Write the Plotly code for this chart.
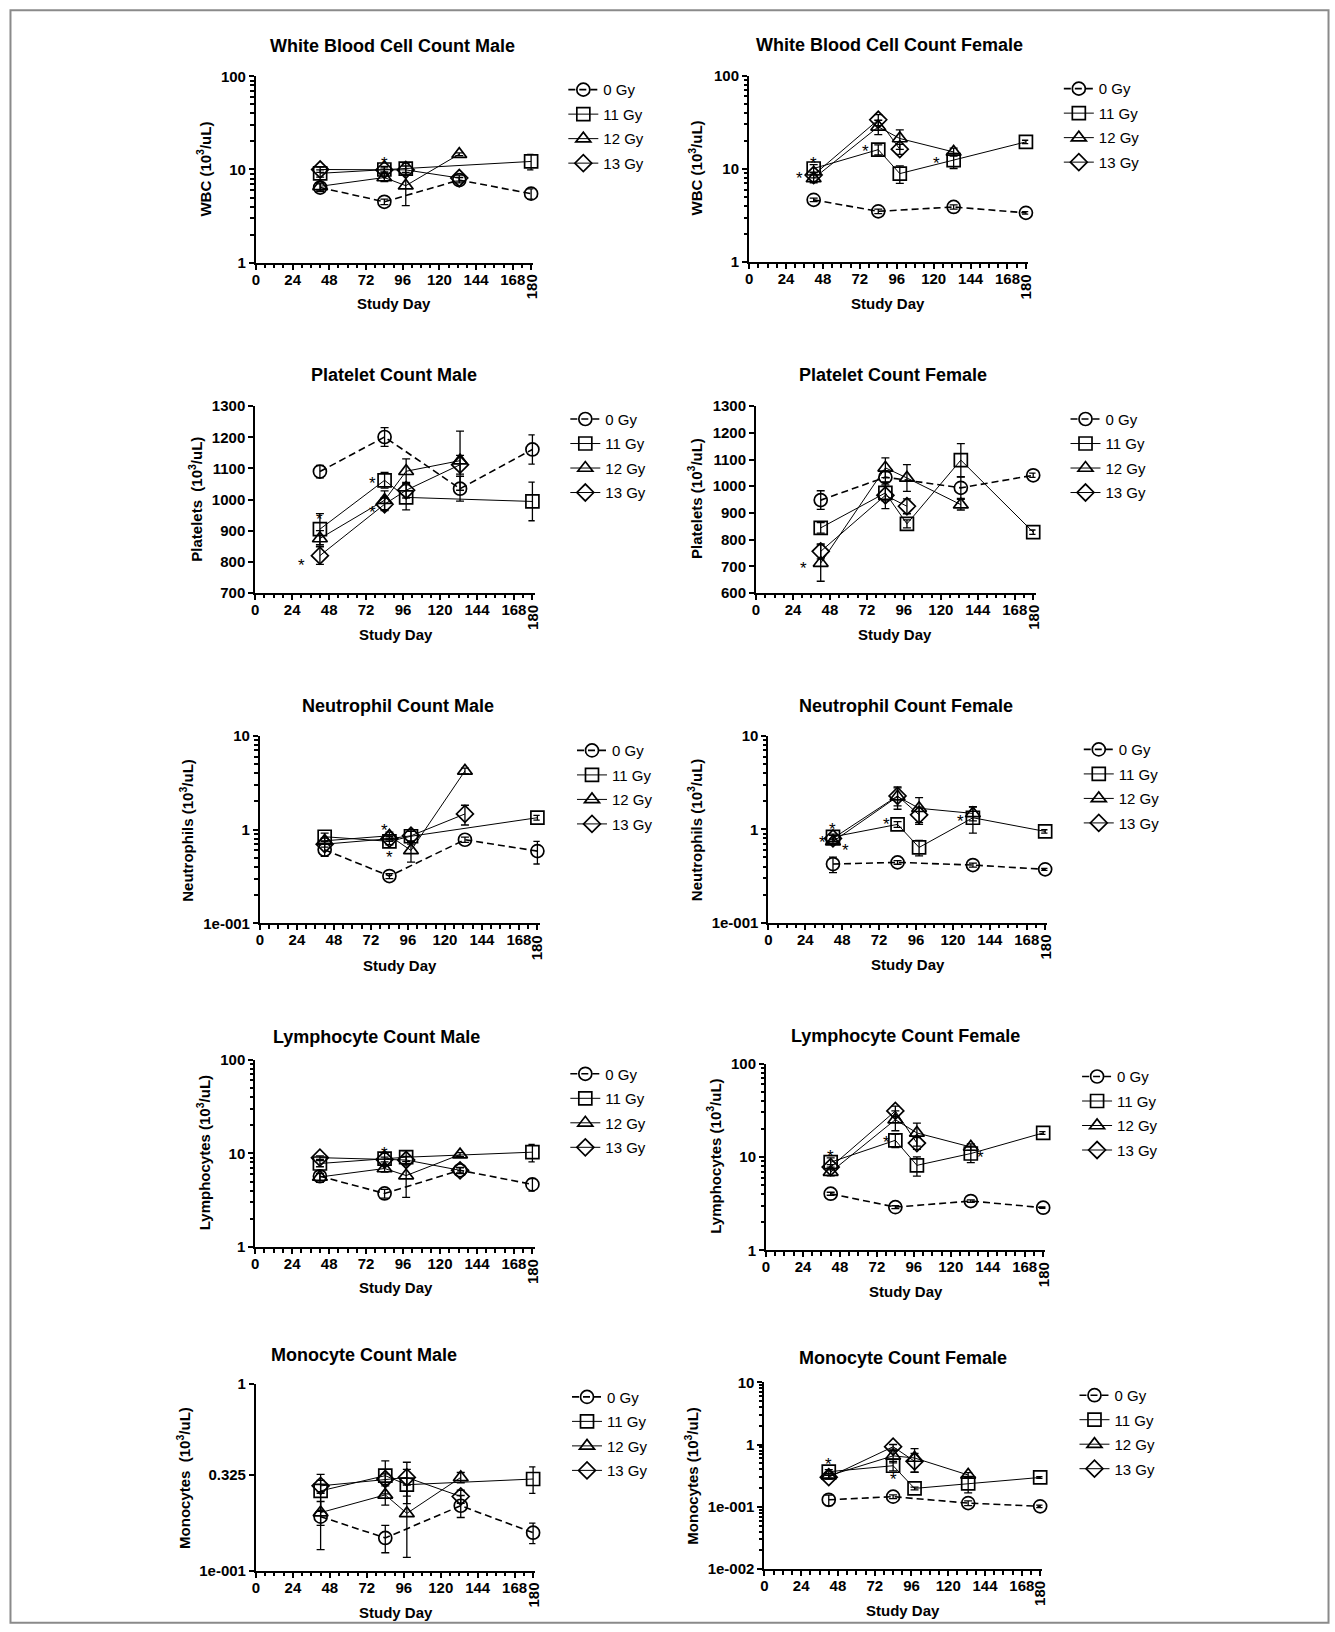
import math
import plotly.graph_objects as go

W, H = 1335, 1632
FONT = "Liberation Sans, Arial, Helvetica, sans-serif"

# ---------------- data ----------------
GROUPS = ["0 Gy", "11 Gy", "12 Gy", "13 Gy"]

DAYS_CTRL = [42, 84, 133, 180]
DAYS_M11 = [42, 84, 98, 180]
DAYS_M12 = [42, 84, 98, 133]
DAYS_M13 = [42, 84, 98, 133]
DAYS_F11 = [42, 84, 98, 133, 180]
DAYS_F12 = [42, 84, 98, 133]
DAYS_F13 = [42, 84, 98]

X_TICKS = [0, 24, 48, 72, 96, 120, 144, 168, 180]
X_TICK_TEXT = ["0", "24", "48", "72", "96", "120", "144", "168", ""]

# WBC male
wbc_m_0 = [6.4, 4.5, 7.7, 5.5]
wbc_m_0_err = [0.6, 0.3, 0.5, 0.7]
wbc_m_11 = [9.1, 10.0, 10.2, 12.2]
wbc_m_11_err = [0.8, 0.8, 1.5, 2.3]
wbc_m_12 = [6.6, 8.2, 6.7, 14.6]
wbc_m_12_err = [0.6, 0.8, 2.6, 0.5]
wbc_m_13 = [10.0, 9.9, 9.9, 8.1]
wbc_m_13_err = [0.7, 0.5, 1.0, 0.6]
wbc_m_star_x = [84]
wbc_m_star_y = [12.7]

# WBC female
wbc_f_0 = [4.65, 3.5, 3.9, 3.37]
wbc_f_0_err = [0.2, 0.2, 0.2, 0.1]
wbc_f_11 = [10.1, 16.1, 8.9, 12.4, 19.5]
wbc_f_11_err = [1.0, 2.0, 1.9, 2.3, 0.8]
wbc_f_12 = [7.9, 28.3, 21.2, 15.2]
wbc_f_12_err = [0.8, 5.0, 5.0, 1.5]
wbc_f_13 = [8.6, 33.7, 16.3]
wbc_f_13_err = [0.6, 4.5, 2.0]
wbc_f_star_x = [33, 42, 76, 122]
wbc_f_star_y = [8.6, 12.5, 17.0, 12.7]

# Platelets male
plt_m_0 = [1090, 1201, 1035, 1161]
plt_m_0_err = [20, 30, 40, 47]
plt_m_11 = [905, 1062, 1007, 994]
plt_m_11_err = [50, 25, 40, 62]
plt_m_12 = [875, 998, 1091, 1125]
plt_m_12_err = [25, 30, 40, 95]
plt_m_13 = [820, 985, 1030, 1112]
plt_m_13_err = [28, 20, 25, 30]
plt_m_star_x = [30, 76, 76, 42]
plt_m_star_y = [800, 1064, 971, 950]

# Platelets female
plt_f_0 = [948, 1034, 994, 1041]
plt_f_0_err = [35, 20, 40, 8]
plt_f_11 = [844, 975, 859, 1098, 828]
plt_f_11_err = [20, 30, 15, 62, 8]
plt_f_12 = [712, 1069, 1031, 931]
plt_f_12_err = [68, 37, 50, 20]
plt_f_13 = [756, 966, 925]
plt_f_13_err = [28, 50, 28]
plt_f_star_x = [31]
plt_f_star_y = [706]

# Neutrophils male
neu_m_0 = [0.61, 0.32, 0.78, 0.59]
neu_m_0_err = [0.09, 0.02, 0.05, 0.16]
neu_m_11 = [0.84, 0.75, 0.85, 1.34]
neu_m_11_err = [0.08, 0.06, 0.15, 0.08]
neu_m_12 = [0.76, 0.86, 0.60, 4.23]
neu_m_12_err = [0.05, 0.08, 0.15, 0.3]
neu_m_13 = [0.70, 0.80, 0.86, 1.47]
neu_m_13_err = [0.05, 0.05, 0.1, 0.35]
neu_m_star_x = [81, 84]
neu_m_star_y = [1.09, 0.56]

# Neutrophils female
neu_f_0 = [0.425, 0.443, 0.415, 0.373]
neu_f_0_err = [0.08, 0.02, 0.02, 0.01]
neu_f_11 = [0.83, 1.13, 0.64, 1.33, 0.95]
neu_f_11_err = [0.06, 0.08, 0.12, 0.42, 0.04]
neu_f_12 = [0.74, 2.24, 1.68, 1.48]
neu_f_12_err = [0.05, 0.6, 0.5, 0.25]
neu_f_13 = [0.80, 2.28, 1.43]
neu_f_13_err = [0.06, 0.5, 0.3]
neu_f_star_x = [42, 35, 50, 77, 125]
neu_f_star_y = [1.09, 0.8, 0.66, 1.23, 1.33]

# Lymphocytes male
lym_m_0 = [5.7, 3.74, 6.6, 4.67]
lym_m_0_err = [0.8, 0.4, 0.5, 0.7]
lym_m_11 = [7.8, 8.8, 9.1, 10.3]
lym_m_11_err = [0.6, 1.2, 1.6, 2.2]
lym_m_12 = [5.6, 6.9, 5.8, 9.7]
lym_m_12_err = [0.5, 0.6, 2.4, 0.5]
lym_m_13 = [9.0, 8.6, 8.5, 6.6]
lym_m_13_err = [0.4, 0.5, 0.8, 0.4]
lym_m_star_x = [84]
lym_m_star_y = [11.0]

# Lymphocytes female
lym_f_0 = [4.05, 2.91, 3.38, 2.87]
lym_f_0_err = [0.15, 0.1, 0.1, 0.05]
lym_f_11 = [8.8, 15.1, 8.15, 10.9, 18.1]
lym_f_11_err = [1.0, 2.5, 1.9, 2.2, 0.6]
lym_f_12 = [6.9, 25.1, 18.1, 12.8]
lym_f_12_err = [0.6, 6.0, 5.0, 1.0]
lym_f_13 = [7.8, 31.1, 14.1]
lym_f_13_err = [0.5, 4.0, 2.0]
lym_f_star_x = [42, 78, 139]
lym_f_star_y = [11.3, 15.7, 10.9]

# Monocytes male
mon_m_0 = [0.195, 0.150, 0.223, 0.160]
mon_m_0_err = [0.065, 0.025, 0.03, 0.02]
mon_m_11 = [0.268, 0.323, 0.289, 0.310]
mon_m_11_err = [0.06, 0.065, 0.06, 0.05]
mon_m_12 = [0.205, 0.255, 0.203, 0.316]
mon_m_12_err = [0.03, 0.03, 0.085, 0.02]
mon_m_13 = [0.285, 0.31, 0.316, 0.25]
mon_m_13_err = [0.02, 0.02, 0.065, 0.02]
mon_m_star_x = []
mon_m_star_y = []

# Monocytes female
mon_f_0 = [0.130, 0.146, 0.115, 0.102]
mon_f_0_err = [0.025, 0.01, 0.01, 0.005]
mon_f_11 = [0.367, 0.458, 0.198, 0.238, 0.297]
mon_f_11_err = [0.03, 0.08, 0.01, 0.07, 0.01]
mon_f_12 = [0.316, 0.66, 0.61, 0.325]
mon_f_12_err = [0.03, 0.15, 0.25, 0.03]
mon_f_13 = [0.30, 0.925, 0.54]
mon_f_13_err = [0.02, 0.08, 0.18]
mon_f_star_x = [42, 84]
mon_f_star_y = [0.55, 0.32]

PANEL_TITLES = [
    "White Blood Cell Count Male", "White Blood Cell Count Female",
    "Platelet Count Male", "Platelet Count Female",
    "Neutrophil Count Male", "Neutrophil Count Female",
    "Lymphocyte Count Male", "Lymphocyte Count Female",
    "Monocyte Count Male", "Monocyte Count Female",
]
Y_TITLES = [
    "WBC (10<sup>3</sup>/uL)", "WBC (10<sup>3</sup>/uL)",
    "Platelets\u00a0 (10<sup>3</sup>/uL)", "Platelets (10<sup>3</sup>/uL)",
    "Neutrophils (10<sup>3</sup>/uL)", "Neutrophils (10<sup>3</sup>/uL)",
    "Lymphocytes (10<sup>3</sup>/uL)", "Lymphocytes (10<sup>3</sup>/uL)",
    "Monocytes\u00a0 (10<sup>3</sup>/uL)", "Monocytes (10<sup>3</sup>/uL)",
]
X_TITLE = "Study Day"

# y axis definitions: (log?, low, high, tick values, tick texts, minor ticks?)
Y_AXES = [
    (True, 1, 100, [1, 10, 100], ["1", "10", "100"], True),
    (True, 1, 100, [1, 10, 100], ["1", "10", "100"], True),
    (False, 700, 1300, [700, 800, 900, 1000, 1100, 1200, 1300],
     ["700", "800", "900", "1000", "1100", "1200", "1300"], False),
    (False, 600, 1300, [600, 700, 800, 900, 1000, 1100, 1200, 1300],
     ["600", "700", "800", "900", "1000", "1100", "1200", "1300"], False),
    (True, 0.1, 10, [0.1, 1, 10], ["1e-001", "1", "10"], True),
    (True, 0.1, 10, [0.1, 1, 10], ["1e-001", "1", "10"], True),
    (True, 1, 100, [1, 10, 100], ["1", "10", "100"], True),
    (True, 1, 100, [1, 10, 100], ["1", "10", "100"], True),
    (True, 0.1, 1, [0.1, 0.325, 1], ["1e-001", "0.325", "1"], False),
    (True, 0.01, 10, [0.01, 0.1, 1, 10], ["1e-002", "1e-001", "1", "10"], True),
]

SERIES = [
    [(DAYS_CTRL, wbc_m_0, wbc_m_0_err), (DAYS_M11, wbc_m_11, wbc_m_11_err),
     (DAYS_M12, wbc_m_12, wbc_m_12_err), (DAYS_M13, wbc_m_13, wbc_m_13_err)],
    [(DAYS_CTRL, wbc_f_0, wbc_f_0_err), (DAYS_F11, wbc_f_11, wbc_f_11_err),
     (DAYS_F12, wbc_f_12, wbc_f_12_err), (DAYS_F13, wbc_f_13, wbc_f_13_err)],
    [(DAYS_CTRL, plt_m_0, plt_m_0_err), (DAYS_M11, plt_m_11, plt_m_11_err),
     (DAYS_M12, plt_m_12, plt_m_12_err), (DAYS_M13, plt_m_13, plt_m_13_err)],
    [(DAYS_CTRL, plt_f_0, plt_f_0_err), (DAYS_F11, plt_f_11, plt_f_11_err),
     (DAYS_F12, plt_f_12, plt_f_12_err), (DAYS_F13, plt_f_13, plt_f_13_err)],
    [(DAYS_CTRL, neu_m_0, neu_m_0_err), (DAYS_M11, neu_m_11, neu_m_11_err),
     (DAYS_M12, neu_m_12, neu_m_12_err), (DAYS_M13, neu_m_13, neu_m_13_err)],
    [(DAYS_CTRL, neu_f_0, neu_f_0_err), (DAYS_F11, neu_f_11, neu_f_11_err),
     (DAYS_F12, neu_f_12, neu_f_12_err), (DAYS_F13, neu_f_13, neu_f_13_err)],
    [(DAYS_CTRL, lym_m_0, lym_m_0_err), (DAYS_M11, lym_m_11, lym_m_11_err),
     (DAYS_M12, lym_m_12, lym_m_12_err), (DAYS_M13, lym_m_13, lym_m_13_err)],
    [(DAYS_CTRL, lym_f_0, lym_f_0_err), (DAYS_F11, lym_f_11, lym_f_11_err),
     (DAYS_F12, lym_f_12, lym_f_12_err), (DAYS_F13, lym_f_13, lym_f_13_err)],
    [(DAYS_CTRL, mon_m_0, mon_m_0_err), (DAYS_M11, mon_m_11, mon_m_11_err),
     (DAYS_M12, mon_m_12, mon_m_12_err), (DAYS_M13, mon_m_13, mon_m_13_err)],
    [(DAYS_CTRL, mon_f_0, mon_f_0_err), (DAYS_F11, mon_f_11, mon_f_11_err),
     (DAYS_F12, mon_f_12, mon_f_12_err), (DAYS_F13, mon_f_13, mon_f_13_err)],
]
STARS = [
    (wbc_m_star_x, wbc_m_star_y), (wbc_f_star_x, wbc_f_star_y),
    (plt_m_star_x, plt_m_star_y), (plt_f_star_x, plt_f_star_y),
    (neu_m_star_x, neu_m_star_y), (neu_f_star_x, neu_f_star_y),
    (lym_m_star_x, lym_m_star_y), (lym_f_star_x, lym_f_star_y),
    (mon_m_star_x, mon_m_star_y), (mon_f_star_x, mon_f_star_y),
]

# ---------------- layout geometry (pixels of the reference) ----------------
P_LEFT = [252.7, 747.3, 252.0, 754.3, 256.7, 766.7, 252.0, 764.3, 252.7, 762.7]
P_X180 = [528.7, 1025.0, 530.0, 1032.3, 535.0, 1044.3, 530.0, 1042.3, 530.7, 1039.3]
P_TOP = [77.3, 76.7, 406.7, 406.7, 736.0, 736.0, 1059.3, 1063.3, 1383.3, 1381.7]
P_BOT = [263.3, 262.7, 593.3, 593.3, 923.3, 922.7, 1246.7, 1250.0, 1570.0, 1568.3]
TITLE_X = [389.7, 888.0, 390.7, 892.0, 394.7, 904.7, 374.0, 904.7, 361.3, 901.3]
TITLE_Y = [46.7, 45.7, 375.7, 375.7, 706.0, 706.0, 1036.7, 1035.7, 1354.0, 1357.3]
YT_X = [200.0, 693.3, 191.7, 693.3, 183.3, 693.3, 200.0, 711.7, 180.0, 690.0]
YT_Y = [170.0, 169.0, 500.0, 499.2, 830.0, 830.0, 1152.5, 1155.8, 1476.7, 1475.0]
XT_X = [391.0, 886.7, 392.7, 894.0, 396.7, 906.7, 392.7, 904.3, 392.7, 901.7]
XT_Y = [304.3, 304.3, 635.0, 635.0, 965.0, 964.0, 1287.3, 1291.0, 1611.7, 1609.3]
LEG_X = [583.0, 1080.0, 585.0, 1086.7, 591.7, 1100.0, 585.0, 1098.3, 586.7, 1095.7]
LEG_Y = [89.3, 88.3, 418.3, 418.3, 749.3, 748.3, 1072.3, 1075.0, 1395.0, 1393.3]

# vertical calibration of the photographed page
Y_OFF, Y_SCALE = 10.0, 0.9884

X_MAX = 181.5
SYMBOLS = ["circle-open", "square-open", "triangle-up-open", "diamond-open"]
DASHES = ["7px,4px", "solid", "solid", "solid"]
LWIDTH = [1.6, 1.0, 1.0, 1.0]

fig = go.Figure()
layout = dict(
    width=W, height=H, margin=dict(l=0, r=0, t=0, b=0),
    paper_bgcolor="white", plot_bgcolor="white",
    font=dict(family=FONT, color="black"),
    showlegend=True,
)
annotations = []


def px_x(v):
    return v / W


def px_y(v):
    return 1 - ((v - Y_OFF) / Y_SCALE) / H


for i in range(10):
    sfx = "" if i == 0 else str(i + 1)
    xa, ya = "x" + sfx, "y" + sfx
    leg = "legend" + sfx
    for g, (days, vals, errs) in enumerate(SERIES[i]):
        fig.add_trace(go.Scatter(
            x=days, y=vals, name=GROUPS[g], mode="lines+markers",
            xaxis=xa, yaxis=ya, legend=leg, legendgroup=f"p{i}g{g}",
            cliponaxis=False,
            line=dict(color="black", width=LWIDTH[g], dash=DASHES[g]),
            marker=dict(symbol=SYMBOLS[g], size=13, color="black",
                        line=dict(color="black", width=1.7)),
            error_y=dict(type="data", array=errs, color="black",
                         thickness=1.3, width=4),
        ))

    right = P_LEFT[i] + (P_X180[i] - P_LEFT[i]) * X_MAX / 180.0
    layout["xaxis" + sfx] = dict(
        domain=[px_x(P_LEFT[i]), px_x(right)], range=[0, X_MAX],
        anchor=ya, showline=True, linecolor="black", linewidth=2,
        ticks="outside", ticklen=5, tickwidth=2, tickcolor="black",
        tickvals=X_TICKS, ticktext=X_TICK_TEXT, ticklabelstandoff=-3,
        tickfont=dict(size=15, family=FONT, color="black", weight="bold"),
        minor=dict(ticks="outside", ticklen=3.5, tickwidth=1.5,
                   tickcolor="black", dtick=6, tick0=0),
        showgrid=False, zeroline=False, fixedrange=True,
    )
    is_log, lo, hi, tv, tt, has_minor = Y_AXES[i]
    yax = dict(
        domain=[px_y(P_BOT[i]), px_y(P_TOP[i])],
        anchor=xa, showline=True, linecolor="black", linewidth=2,
        ticks="outside", ticklen=5, tickwidth=2, tickcolor="black",
        tickvals=tv, ticktext=tt,
        tickfont=dict(size=15, family=FONT, color="black", weight="bold"),
        showgrid=False, zeroline=False, fixedrange=True,
    )
    if is_log:
        yax["type"] = "log"
        yax["range"] = [math.log10(lo), math.log10(hi)]
        if has_minor:
            e0, e1 = round(math.log10(lo)), round(math.log10(hi))
            mv = [m * 10 ** e for e in range(e0, e1) for m in range(2, 10)]
            yax["minor"] = dict(ticks="outside", ticklen=3.5, tickwidth=1.5,
                                tickcolor="black", tickvals=mv)
    else:
        yax["type"] = "linear"
        yax["range"] = [lo, hi]
    layout["yaxis" + sfx] = yax

    layout[leg] = dict(
        x=px_x(LEG_X[i] - 22), y=px_y(LEG_Y[i] - 15),
        xanchor="left", yanchor="top",
        font=dict(size=15, family=FONT, color="black"),
        bgcolor="rgba(0,0,0,0)", tracegroupgap=2,
    )

    # panel title
    annotations.append(dict(
        text="<b>" + PANEL_TITLES[i] + "</b>", xref="paper", yref="paper",
        x=px_x(TITLE_X[i]), y=px_y(TITLE_Y[i]), xanchor="center", yanchor="middle",
        showarrow=False, font=dict(size=18, family=FONT, color="black")))
    # y title
    annotations.append(dict(
        text="<b>" + Y_TITLES[i] + "</b>", xref="paper", yref="paper",
        x=px_x(YT_X[i]), y=px_y(YT_Y[i]), xanchor="center", yanchor="middle",
        textangle=-90, showarrow=False,
        font=dict(size=15, family=FONT, color="black")))
    # x title
    annotations.append(dict(
        text="<b>" + X_TITLE + "</b>", xref="paper", yref="paper",
        x=px_x(XT_X[i]), y=px_y(XT_Y[i]), xanchor="center", yanchor="middle",
        showarrow=False, font=dict(size=15, family=FONT, color="black")))
    # rotated 180 tick label
    annotations.append(dict(
        text="<b>180</b>", xref=xa, yref="paper",
        x=180, y=px_y(P_BOT[i] + 24.5), xanchor="center", yanchor="middle",
        textangle=-90, showarrow=False,
        font=dict(size=15, family=FONT, color="black")))
    # significance stars
    sx, sy = STARS[i]
    for xv, yv in zip(sx, sy):
        annotations.append(dict(
            text="*", xref=xa, yref=ya, x=xv,
            y=math.log10(yv) if is_log else yv,
            showarrow=False, yshift=-4,
            font=dict(size=17, family=FONT, color="black")))

layout["annotations"] = annotations
layout["shapes"] = [dict(
    type="rect", xref="paper", yref="paper",
    x0=px_x(6.5), x1=px_x(W - 6.5), y0=0.0008, y1=0.9992,
    line=dict(color="#8a8a8a", width=2), fillcolor="rgba(0,0,0,0)")]

fig.update_layout(**layout)
fig.write_html(
    "out.html",
    config={"displayModeBar": False},
    post_script="document.documentElement.style.margin='0';"
                "document.body.style.margin='0';"
                "document.body.style.overflow='hidden';",
)
